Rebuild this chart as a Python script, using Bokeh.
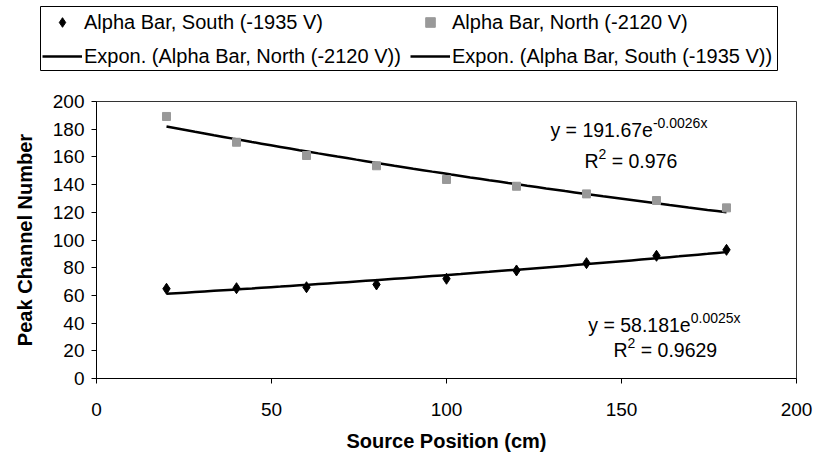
import numpy as np
from bokeh.plotting import figure
from bokeh.layouts import column
from bokeh.models import Range1d, Label, Legend, LegendItem, FixedTicker, ColumnDataSource
from bokeh.embed import file_html
from bokeh.resources import INLINE

# ---- data ----
positions = [20, 40, 60, 80, 100, 120, 140, 160, 180]
south_peak = [64.8, 65.2, 65.9, 67.9, 72.0, 78.0, 83.3, 88.6, 92.9]
north_peak = [189.2, 170.6, 161.0, 153.6, 143.7, 138.8, 133.3, 128.5, 123.2]
north_fit_a, north_fit_b, north_r2 = 191.67, -0.0026, "0.976"
south_fit_a, south_fit_b, south_r2 = 58.181, 0.0025, "0.9629"
x_ticks = [0, 50, 100, 150, 200]
y_ticks = [0, 20, 40, 60, 80, 100, 120, 140, 160, 180, 200]
legend_labels = ["Alpha Bar, South (-1935 V)", "Alpha Bar, North (-2120 V)",
                 "Expon. (Alpha Bar, North (-2120 V))", "Expon. (Alpha Bar, South (-1935 V))"]

FONT = "Liberation Sans"
SOUTH_STYLE = dict(marker="diamond", size=11, fill_color="black", line_color="black")
NORTH_STYLE = dict(marker="square", size=8, fill_color="#999999", line_color="#999999")
FIT_STYLE = dict(line_color="black", line_width=2.5)

LEGEND_H = 71


def no_align(fig):
    if "frame_align" in fig.properties():
        fig.frame_align = False


# ---------------- main plot ----------------
p = figure(width=814, height=455 - LEGEND_H, x_range=Range1d(0, 200), y_range=Range1d(0, 200),
           output_backend="svg", toolbar_location=None,
           min_border_left=96, min_border_right=18, min_border_top=101 - LEGEND_H,
           min_border_bottom=77)
no_align(p)
p.outline_line_color = "#333333"
p.outline_line_width = 1
p.xgrid.visible = False
p.ygrid.visible = False

for ax in (p.xaxis[0], p.yaxis[0]):
    ax.axis_line_color = "black"
    ax.major_tick_line_color = "black"
    ax.major_tick_out = 5
    ax.major_tick_in = 0
    ax.minor_tick_line_color = None
    ax.major_label_text_font = FONT
    ax.major_label_text_font_size = "19px"
    ax.major_label_text_color = "black"
    ax.axis_label_text_font = FONT
    ax.axis_label_text_font_style = "bold"
    ax.axis_label_text_font_size = "20px"
    ax.axis_label_text_color = "black"

p.xaxis.ticker = FixedTicker(ticks=x_ticks)
p.yaxis.ticker = FixedTicker(ticks=y_ticks)
p.xaxis.axis_label = "Source Position (cm)"
p.yaxis.axis_label = "Peak Channel Number"
p.xaxis.major_label_standoff = 19
p.xaxis.axis_label_standoff = 11
p.yaxis.major_label_standoff = 7
p.yaxis.axis_label_standoff = 14

src = ColumnDataSource(dict(x=positions, south=south_peak, north=north_peak))
xs = np.linspace(positions[0], positions[-1], 60)
fit_src = ColumnDataSource(dict(x=xs,
                                north=north_fit_a * np.exp(north_fit_b * xs),
                                south=south_fit_a * np.exp(south_fit_b * xs)))

p.line("x", "north", source=fit_src, **FIT_STYLE)
p.line("x", "south", source=fit_src, **FIT_STYLE)
p.scatter("x", "south", source=src, **SOUTH_STYLE)
p.scatter("x", "north", source=src, **NORTH_STYLE)

# ---- trendline equations ----
W = {' ': 278, '.': 278, '=': 584, 'y': 500, 'e': 556, 'R': 722, '-': 333, 'x': 500}
def tw(s, size):
    return sum(W.get(c, 556) for c in s) * size / 1000.0

MAIN, SUP, RISE = 19.5, 14, 7

def lab(x, y, text, size, dx=0.0, dy=0.0):
    p.add_layout(Label(x=x, y=y, x_offset=dx, y_offset=dy, text=text, text_font=FONT,
                       text_font_size="%gpx" % size, text_baseline="middle",
                       text_color="black"))

def equation(x, y, a, b):
    base = "y = %se" % a
    lab(x, y, base, MAIN)
    lab(x, y, "%sx" % b, SUP, dx=tw(base, MAIN), dy=RISE)

def r2(x, y, val):
    lab(x, y, "R", MAIN)
    lab(x, y, "2", SUP, dx=tw("R", MAIN), dy=RISE)
    lab(x, y, "= %s" % val, MAIN, dx=tw("R", MAIN) + tw("2", SUP) + tw(" ", MAIN))

equation(129.7, 179.4, "191.67", "%g" % north_fit_b)
r2(139.4, 157.4, north_r2)
equation(140.5, 38.6, "58.181", "%g" % south_fit_b)
r2(147.7, 20.9, south_r2)

# ---------------- legend box (separate strip above the plot) ----------------
lg = figure(width=814, height=LEGEND_H, x_range=Range1d(0, 1), y_range=Range1d(0, 1),
            output_backend="svg", toolbar_location=None,
            x_axis_location=None, y_axis_location=None,
            min_border_left=40, min_border_right=37, min_border_top=6, min_border_bottom=1)
no_align(lg)
lg.outline_line_color = "black"
lg.outline_line_width = 1
lg.xgrid.visible = False
lg.ygrid.visible = False
proxy = ColumnDataSource(dict(x=[np.nan], y=[np.nan]))
g_south = lg.scatter("x", "y", source=proxy, **SOUTH_STYLE)
g_north = lg.scatter("x", "y", source=proxy, **NORTH_STYLE)
g_nfit = lg.line("x", "y", source=proxy, **FIT_STYLE)
g_sfit = lg.line("x", "y", source=proxy, **FIT_STYLE)


def legend_row(items, location):
    leg = Legend(items=items, orientation="horizontal", location=location)
    leg.label_text_font = FONT
    leg.label_text_font_size = "20px"
    leg.label_text_color = "black"
    leg.glyph_width = 40
    leg.glyph_height = 24
    leg.label_height = 24
    leg.label_width = 326
    leg.label_standoff = 2
    leg.spacing = 0
    leg.padding = 4
    leg.margin = 0
    leg.border_line_alpha = 0
    leg.background_fill_alpha = 0
    lg.add_layout(leg, "center")


legend_row([LegendItem(label=legend_labels[0], renderers=[g_south]),
            LegendItem(label=legend_labels[1], renderers=[g_north])], (-2, 32))
legend_row([LegendItem(label=legend_labels[2], renderers=[g_nfit]),
            LegendItem(label=legend_labels[3], renderers=[g_sfit])], (-2, -2))

layout = column(lg, p, spacing=0)
open("out.html", "w").write(file_html(layout, INLINE))
